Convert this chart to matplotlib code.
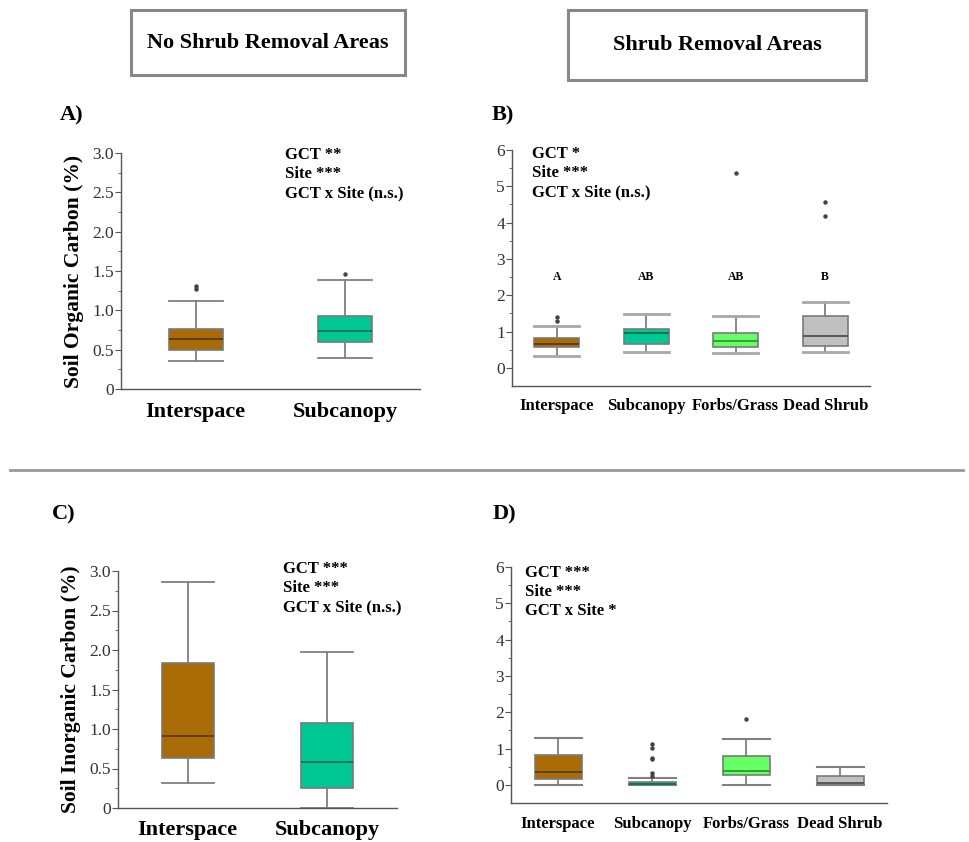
import numpy as np
import matplotlib.pyplot as plt
from matplotlib.patches import Rectangle
from matplotlib.lines import Line2D
from matplotlib.ticker import MultipleLocator, FixedLocator

plt.rcParams['font.family'] = ['Liberation Serif', 'DejaVu Serif']

# categories
cat2 = ['Interspace', 'Subcanopy']
cat4 = ['Interspace', 'Subcanopy', 'Forbs/Grass', 'Dead Shrub']

# A) soil organic carbon, no shrub removal
a_whislo = [0.35, 0.39]
a_q1 = [0.49, 0.60]
a_med = [0.64, 0.74]
a_q3 = [0.76, 0.93]
a_whishi = [1.12, 1.38]
a_fliers = [[1.27, 1.31], [1.46]]

# B) soil organic carbon, shrub removal
b_whislo = [0.34, 0.45, 0.41, 0.45]
b_q1 = [0.57, 0.65, 0.58, 0.59]
b_med = [0.67, 0.97, 0.73, 0.89]
b_q3 = [0.81, 1.07, 0.96, 1.43]
b_whishi = [1.15, 1.48, 1.44, 1.81]
b_fliers = [[1.28, 1.39], [], [5.36], [4.19, 4.56]]
b_letters = ['A', 'AB', 'AB', 'B']

# C) soil inorganic carbon, no shrub removal
c_whislo = [0.32, 0.0]
c_q1 = [0.63, 0.25]
c_med = [0.91, 0.58]
c_q3 = [1.84, 1.08]
c_whishi = [2.86, 1.97]
c_fliers = [[], []]

# D) soil inorganic carbon, shrub removal
d_whislo = [0.0, 0.0, 0.0, 0.0]
d_q1 = [0.16, 0.0, 0.27, 0.0]
d_med = [0.36, 0.03, 0.39, 0.04]
d_q3 = [0.81, 0.07, 0.79, 0.24]
d_whishi = [1.29, 0.18, 1.26, 0.50]
d_fliers = [[], [0.24, 0.33, 0.71, 0.73, 1.01, 1.12], [1.81], []]

stats_a = ['GCT **', 'Site ***', 'GCT x Site (n.s.)']
stats_b = ['GCT *', 'Site ***', 'GCT x Site (n.s.)']
stats_c = ['GCT ***', 'Site ***', 'GCT x Site (n.s.)']
stats_d = ['GCT ***', 'Site ***', 'GCT x Site *']

face = ['#a86b05', '#00c894', '#66ff66', '#c0c0c0']
medc = ['#5a3a02', '#0a6e55', '#2f9a2f', '#505050']

W, H = 969, 842
fig = plt.figure(figsize=(W / 100, H / 100), dpi=100)


def px_axes(x0, y0, x1, y1):
    return fig.add_axes([x0 / W, 1 - y1 / H, (x1 - x0) / W, (y1 - y0) / H])


def draw(ax, cats, lo, q1, med, q3, hi, fl, width, capc, caplw, ylim):
    data = []
    for i in range(len(cats)):
        data.append(dict(med=med[i], q1=q1[i], q3=q3[i], whislo=lo[i],
                         whishi=hi[i], fliers=fl[i], label=cats[i]))
    bp = ax.bxp(data, positions=np.arange(1, len(cats) + 1), widths=width,
                patch_artist=True, capwidths=width,
                whiskerprops=dict(color='#808080', lw=1.3),
                capprops=dict(color=capc, lw=caplw),
                flierprops=dict(marker='o', markersize=2.2, markerfacecolor='#444444',
                                markeredgecolor='#444444'))
    for i, b in enumerate(bp['boxes']):
        b.set_facecolor(face[i])
        b.set_edgecolor('#7a7a7a')
        b.set_linewidth(1.2)
        bp['medians'][i].set_color(medc[i])
        bp['medians'][i].set_linewidth(1.3)
    ax.set_xlim(0.5, len(cats) + 0.5)
    ax.set_ylim(*ylim)
    for s in ['top', 'right']:
        ax.spines[s].set_visible(False)
    for s in ['left', 'bottom']:
        ax.spines[s].set_color('#555555')
        ax.spines[s].set_linewidth(1.0)
    ax.tick_params(axis='x', length=0)
    ax.tick_params(axis='y', which='major', direction='out', length=4, color='#555555',
                   labelcolor='#333333', labelsize=12.5, pad=1)
    ax.tick_params(axis='y', which='minor', direction='out', length=2.5, color='#555555')


def stats_text(ax, x, y, lines):
    for k, t in enumerate(lines):
        fig.text(x / W, 1 - (y + 19 * k) / H, t, fontsize=12, fontweight='bold',
                 va='center', ha='left')


# A
axA = px_axes(121, 153, 420, 389)
draw(axA, cat2, a_whislo, a_q1, a_med, a_q3, a_whishi, a_fliers, 0.36, '#808080', 1.3, (0, 3))
axA.yaxis.set_major_locator(FixedLocator([0, 0.5, 1, 1.5, 2, 2.5, 3]))
axA.set_yticklabels(['0', '0.5', '1.0', '1.5', '2.0', '2.5', '3.0'])
axA.yaxis.set_minor_locator(MultipleLocator(0.25))
axA.set_xticks([1, 2], cat2, fontsize=16, fontweight='bold')
axA.tick_params(axis='x', pad=9)
axA.set_ylabel('Soil Organic Carbon (%)', fontsize=15.5, fontweight='bold', labelpad=6)
stats_text(axA, 285, 155, stats_a)

# B
axB = px_axes(512, 150, 870, 386)
draw(axB, cat4, b_whislo, b_q1, b_med, b_q3, b_whishi, b_fliers, 0.5, '#a8a8a8', 2.0, (-0.5, 6))
axB.spines['left'].set_bounds(-0.5, 6)
axB.yaxis.set_major_locator(FixedLocator([0, 1, 2, 3, 4, 5, 6]))
axB.yaxis.set_minor_locator(FixedLocator([0.5, 1.5, 2.5, 3.5, 4.5, 5.5]))
axB.set_xticks([1, 2, 3, 4], cat4, fontsize=12, fontweight='bold')
axB.tick_params(axis='x', pad=9)
for i, t in enumerate(b_letters):
    axB.text(i + 1, 2.5, t, ha='center', va='center', fontsize=8.5, fontweight='bold')
stats_text(axB, 532, 154, stats_b)

# C
axC = px_axes(118, 571, 397, 808)
draw(axC, cat2, c_whislo, c_q1, c_med, c_q3, c_whishi, c_fliers, 0.37, '#808080', 1.3, (0, 3))
axC.yaxis.set_major_locator(FixedLocator([0, 0.5, 1, 1.5, 2, 2.5, 3]))
axC.set_yticklabels(['0', '0.5', '1.0', '1.5', '2.0', '2.5', '3.0'])
axC.yaxis.set_minor_locator(MultipleLocator(0.25))
axC.set_xticks([1, 2], cat2, fontsize=16, fontweight='bold')
axC.tick_params(axis='x', pad=9)
axC.set_ylabel('Soil Inorganic Carbon (%)', fontsize=15.5, fontweight='bold', labelpad=6)
stats_text(axC, 283, 569, stats_c)

# D
axD = px_axes(511, 567, 887, 803)
draw(axD, cat4, d_whislo, d_q1, d_med, d_q3, d_whishi, d_fliers, 0.5, '#808080', 1.5, (-0.5, 6))
axD.yaxis.set_major_locator(FixedLocator([0, 1, 2, 3, 4, 5, 6]))
axD.yaxis.set_minor_locator(FixedLocator([0.5, 1.5, 2.5, 3.5, 4.5, 5.5]))
axD.set_xticks([1, 2, 3, 4], cat4, fontsize=12, fontweight='bold')
axD.tick_params(axis='x', pad=9)
stats_text(axD, 525, 573, stats_d)

# panel letters
for lab, x, y in [('A)', 60, 115), ('B)', 492, 115), ('C)', 52, 514), ('D)', 493, 514)]:
    fig.text(x / W, 1 - y / H, lab, fontsize=16, fontweight='bold', va='center', ha='left')

# header boxes
for txt, x0, x1, y0, y1 in [('No Shrub Removal Areas', 131, 405, 10, 75),
                            ('Shrub Removal Areas', 568, 866, 10, 80)]:
    fig.patches.append(Rectangle((x0 / W, 1 - y1 / H), (x1 - x0) / W, (y1 - y0) / H,
                                 transform=fig.transFigure, fill=False,
                                 edgecolor='#888888', lw=2.2))
    fig.text((x0 + x1) / 2 / W, 1 - (y0 + y1) / 2 / H, txt, fontsize=16,
             fontweight='bold', ha='center', va='center')

# separator
fig.add_artist(Line2D([10 / W, 963 / W], [1 - 470 / H, 1 - 470 / H],
                      transform=fig.transFigure, color='#999999', lw=2))

fig.savefig('out.png', dpi=100)
